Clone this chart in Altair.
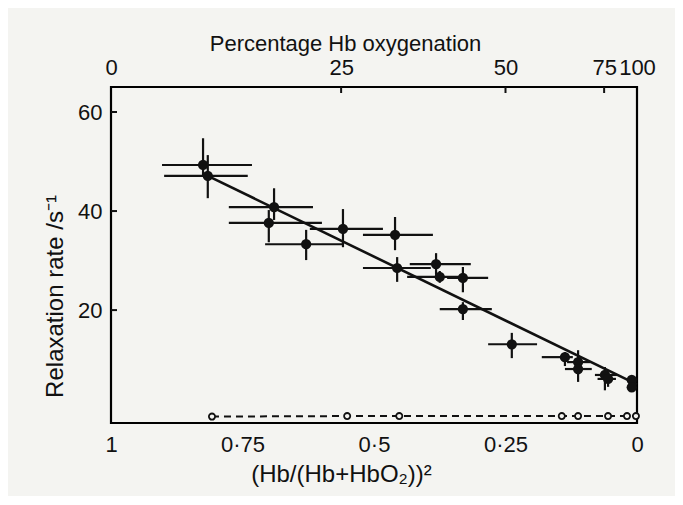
import altair as alt
import pandas as pd

# ---- data ----
# filled points: x = (Hb/(Hb+HbO2))^2, y = relaxation rate /s^-1
pt_x   = [0.825, 0.816, 0.690, 0.700, 0.559, 0.629, 0.460, 0.456, 0.382, 0.375,
          0.331, 0.331, 0.238, 0.137, 0.112, 0.112, 0.061, 0.055, 0.010, 0.010]
pt_y   = [49.3, 47.1, 40.8, 37.6, 36.4, 33.3, 35.2, 28.5, 29.3, 26.7,
          26.5, 20.2, 13.1, 10.5, 9.5, 8.1, 6.9, 6.1, 5.9, 4.4]
pt_xlo = [0.732, 0.740, 0.616, 0.599, 0.483, 0.559, 0.388, 0.392, 0.316, 0.331,
          0.283, 0.276, 0.190, 0.122, 0.089, 0.086, 0.038, 0.040, 0.010, 0.010]
pt_xhi = [0.903, 0.899, 0.776, 0.776, 0.622, 0.707, 0.521, 0.521, 0.432, 0.437,
          0.361, 0.375, 0.283, 0.181, 0.133, 0.137, 0.080, 0.075, 0.010, 0.010]
pt_ylo = [47.0, 42.6, 38.2, 33.7, 32.7, 30.1, 32.1, 25.7, 27.1, 25.5,
          23.6, 18.0, 10.3, 8.7, 5.5, 7.0, 3.8, 4.5, 5.9, 4.4]
pt_yhi = [54.7, 51.3, 44.6, 40.2, 40.4, 36.2, 38.8, 30.7, 31.5, 27.9,
          28.7, 21.6, 15.4, 11.5, 11.9, 9.2, 8.5, 7.5, 5.9, 4.4]

# fitted straight line
fit_x = [0.816, 0.0]
fit_y = [47.1, 5.0]

# open circles (dashed series)
oc_x = [0.808, 0.551, 0.452, 0.143, 0.112, 0.055, 0.019, 0.002]
oc_y = [-1.5, -1.4, -1.4, -1.4, -1.4, -1.4, -1.4, -1.4]

# axis ticks
bottom_ticks = [1, 0.75, 0.5, 0.25, 0]
left_ticks = [20, 40, 60]
top_pct_labels = [0, 25, 50, 75, 100]
top_pct_ticks = [25, 50, 75]

FONT = "Liberation Sans"
INK = "#111111"
PAPER = "#f4f4f1"

pts = pd.DataFrame(dict(x=pt_x, y=pt_y, xlo=pt_xlo, xhi=pt_xhi, ylo=pt_ylo, yhi=pt_yhi))
fit = pd.DataFrame(dict(x=fit_x, y=fit_y))
oc = pd.DataFrame(dict(x=oc_x, y=oc_y))
lt = pd.DataFrame(dict(v=left_ticks))
tt = pd.DataFrame(dict(pos=[(1 - p / 100) ** 2 for p in top_pct_ticks]))
top_vals = [(1 - p / 100) ** 2 for p in top_pct_labels]

xs = alt.Scale(domain=[0, 1], reverse=True, nice=False, zero=False)
ys = alt.Scale(domain=[-2.8, 65.05], nice=False, zero=False)

bottom_axis = alt.Axis(
    orient="bottom", values=bottom_ticks, ticks=False, tickSize=0, domain=False, grid=False,
    labelExpr="replace(toString(datum.value), '.', '·')",
    labelFont=FONT, labelFontSize=22, labelColor=INK, labelPadding=11,
    labelFlush=False, labelOverlap=False,
    title="(Hb/(Hb+HbO₂))²", titleFont=FONT, titleFontSize=24, titleFontWeight="normal",
    titleColor=INK, titleX=230, titleY=58, titleAlign="center", titleBaseline="alphabetic",
)
top_axis = alt.Axis(
    orient="top", values=top_vals, ticks=False, tickSize=0, domain=False, grid=False,
    labelExpr="format((1 - sqrt(datum.value)) * 100, '.0f')",
    labelFont=FONT, labelFontSize=22, labelColor=INK, labelPadding=8,
    labelFlush=False, labelOverlap=False,
    title="Percentage Hb oxygenation", titleFont=FONT, titleFontSize=22, titleFontWeight="normal",
    titleColor=INK, titleX=234, titleY=-37, titleAlign="center", titleBaseline="alphabetic",
)
left_axis = alt.Axis(
    orient="left", values=left_ticks, ticks=False, tickSize=0, domain=False, grid=False,
    labelFont=FONT, labelFontSize=22, labelColor=INK, labelPadding=9,
    title="Relaxation rate /s⁻¹", titleFont=FONT, titleFontSize=24, titleFontWeight="normal",
    titleColor=INK, titleAngle=270, titleX=-49, titleY=209, titleAlign="center",
    titleBaseline="alphabetic",
)

xerr = alt.Chart(pts).mark_rule(color=INK, strokeWidth=2.2).encode(
    x=alt.X("xlo:Q", scale=xs, axis=bottom_axis),
    x2="xhi:Q",
    y=alt.Y("y:Q", scale=ys, axis=left_axis),
)
yerr = alt.Chart(pts).mark_rule(color=INK, strokeWidth=2.2).encode(
    x=alt.X("x:Q", scale=xs, axis=None),
    y=alt.Y("ylo:Q", scale=ys, axis=None),
    y2="yhi:Q",
)
fitline = alt.Chart(fit).mark_line(color=INK, strokeWidth=2.6).encode(
    x=alt.X("x:Q", scale=xs, axis=None),
    y=alt.Y("y:Q", scale=ys, axis=None),
)
dots = alt.Chart(pts).mark_point(filled=True, color=INK, size=105, opacity=1).encode(
    x=alt.X("x:Q", scale=xs, axis=None),
    y=alt.Y("y:Q", scale=ys, axis=None),
)
dash = alt.Chart(oc).mark_line(color=INK, strokeWidth=2, strokeDash=[7, 5]).encode(
    x=alt.X("x:Q", scale=xs, axis=None),
    y=alt.Y("y:Q", scale=ys, axis=None),
)
circles = alt.Chart(oc).mark_point(shape="circle", filled=True, fill=PAPER,
                                   stroke=INK, strokeWidth=1.8, size=38, opacity=1).encode(
    x=alt.X("x:Q", scale=xs, axis=None),
    y=alt.Y("y:Q", scale=ys, axis=None),
)
left_tick_marks = alt.Chart(lt).mark_rule(color=INK, strokeWidth=2).encode(
    y=alt.Y("v:Q", scale=ys, axis=None),
    x=alt.value(0), x2=alt.value(6),
)
top_tick_marks = alt.Chart(tt).mark_rule(color=INK, strokeWidth=2).encode(
    x=alt.X("pos:Q", scale=xs, axis=top_axis),
    y=alt.value(0), y2=alt.value(6),
)

chart = alt.layer(
    xerr, yerr, fitline, dash, circles, dots, left_tick_marks, top_tick_marks
).resolve_axis(x="independent", y="independent").properties(
    width=526, height=336,
    autosize=alt.AutoSizeParams(type="none"),
    padding={"left": 103, "top": 79, "right": 38, "bottom": 73},
    background=PAPER,
).configure_view(stroke="black", strokeWidth=2.2)

chart.save("out.html", embed_options={"renderer": "svg", "actions": False})
